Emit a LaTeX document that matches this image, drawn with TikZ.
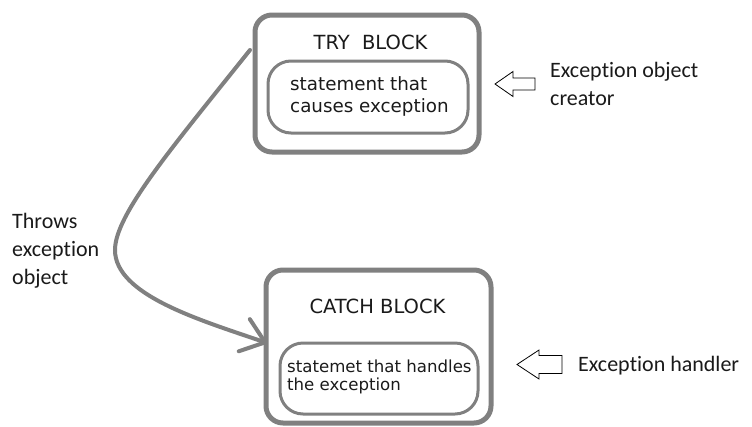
\documentclass[tikz,border=0pt]{standalone}
\usepackage{fontspec}
\setmainfont{DejaVu Sans}
\newfontfamily\calib[Ligatures={NoCommon,NoContextual,NoRare}]{Carlito}
\usetikzlibrary{arrows.meta}
\definecolor{boxgray}{RGB}{128,128,128}
\definecolor{ink}{RGB}{26,26,26}
\tikzset{
  outerbox/.style={draw=boxgray, line width=5pt, rounded corners=17pt, inner sep=0pt},
  innerbox/.style={draw=boxgray, line width=3pt, rounded corners=23pt, inner sep=0pt},
  titletext/.style={text=ink, inner sep=0pt, font=\fontsize{19.5}{23}\selectfont},
  bodytext/.style={text=ink, inner sep=0pt, align=left},
  sidetext/.style={text=ink, inner sep=0pt, align=left, font=\calib\fontsize{22}{28}\selectfont},
  hollowarrow/.style={draw=black, line width=0.8pt, fill=white, line join=miter},
  throwline/.style={draw=boxgray, line width=4pt, line cap=round,
    -{Straight Barb[length=22pt, width=34pt, line width=4pt, round]}}
}
\begin{document}
\begin{tikzpicture}[x=1pt, y=-1pt]
\useasboundingbox (0,0) rectangle (752,426);
% TRY block
\node[outerbox, minimum width=224pt, minimum height=137pt] (try) at (367,83.5) {};
\node[innerbox, minimum width=200pt, minimum height=72pt] (tryin) at (368,97) {};
\node[titletext] (trytitle) at (370.5,42) {TRY\ \ BLOCK};
\node[bodytext, anchor=west, font=\fontsize{18.3}{22}\selectfont] (trybody) at (290,96) {statement that\\causes exception};
% CATCH block
\node[outerbox, minimum width=225pt, minimum height=153pt] (catch) at (378.5,346.5) {};
\node[innerbox, minimum width=198pt, minimum height=71pt] (catchin) at (379,378.5) {};
\node[titletext] (catchtitle) at (377.5,306) {CATCH BLOCK};
\node[bodytext, anchor=west, font=\fontsize{16.6}{18}\selectfont] (catchbody) at (287,377) {statemet that handles\\the exception};
% side labels
\node[sidetext, anchor=west] (creator) at (550,84) {Excep\kern0pt tion object\\creator};
\node[sidetext, anchor=base west] (handler) at (578,371) {Excep\kern0pt tion handler};
\node[sidetext, anchor=west] (throws) at (12,251) {Throws\\excep\kern0pt tion\\object};
% hollow arrows
\draw[hollowarrow] (495,84) -- (513,71.5) -- (513,78) -- (535,78) -- (535,90) -- (513,90) -- (513,96.5) -- cycle;
\draw[hollowarrow] (517,364.5) -- (539,350) -- (539,355.5) -- (562,355.5) -- (562,373.5) -- (539,373.5) -- (539,379) -- cycle;
% throw connector
\coordinate (throwstart) at (250,50);
\coordinate (throwend) at (267,343);
\draw[throwline] (throwstart) .. controls (170,150) and (115,215) .. (115,250)
  .. controls (115,295) and (200,320) .. (throwend);
\end{tikzpicture}
\end{document}
